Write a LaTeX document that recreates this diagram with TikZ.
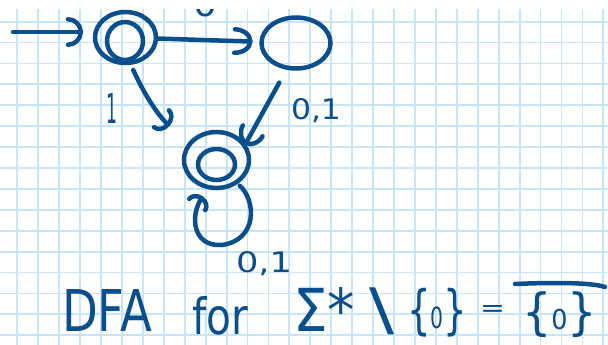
\documentclass[tikz,border=0pt]{standalone}
\usepackage{fontspec}
\setmainfont{DejaVu Sans}
\usepackage{graphicx}
\usetikzlibrary{arrows.meta,shapes.geometric}
\definecolor{ink}{HTML}{0A4E8C}
\definecolor{gridblue}{HTML}{C8E4F8}
\begin{document}
\begin{tikzpicture}[x=1pt,y=-1pt,
  inkline/.style={draw=ink, line width=4.5pt, line cap=round, line join=round},
  statering/.style={ellipse, draw=ink, line width=4.5pt, inner sep=0pt, outer sep=0pt},
  handtext/.style={text=ink, inner sep=0pt, outer sep=0pt, anchor=north west},
  gridline/.style={draw=gridblue, line width=1.8pt},
  tipinit/.style={-{Arc Barb[length=15pt,width=30pt,round]}},
  tipmid/.style={-{Arc Barb[length=18pt,width=28pt,round]}},
  tipdown/.style={-{Arc Barb[length=11pt,width=27pt,round]}},
  tipq2/.style={-{Arc Barb[length=16pt,width=27pt,round]}},
  tiploop/.style={-{Arc Barb[length=10pt,width=24pt,round]}}
]
\useasboundingbox (0,0) rectangle (608,345);
\fill[white] (0,0) rectangle (608,345);
\begin{scope}
\clip (0,9.5) rectangle (608,345);
\foreach \k in {0,...,28} \draw[gridline] ({17.3+20.93*\k},0) -- ({17.3+20.93*\k},345);
\foreach \k in {0,...,15} \draw[gridline] (0,{21.7+20.9*\k}) -- (608,{21.7+20.9*\k});
% label above the q0 -> q1 edge, cut by the top of the page as in the reference
\node[handtext] (lbl0top) at (193,-9) {\resizebox{24pt}{26pt}{0}};
\end{scope}

% states
\node[statering, minimum width=61pt, minimum height=51pt] (q0) at (125.5,37.5) {};
\node[statering, minimum width=36pt, minimum height=38pt] (q0in) at (125,41) {};
\node[statering, minimum width=69pt, minimum height=51pt] (q1) at (296,43) {};
\node[statering, minimum width=65pt, minimum height=56pt] (q2) at (216.5,160) {};
\node[statering, minimum width=37pt, minimum height=31pt] (q2in) at (216.5,164.5) {};

% connectors
\coordinate (init) at (13,32);
\draw[inkline, tipinit, shorten >=12pt] (init) -- (init -| q0.west);
\draw[inkline, tipmid, shorten <=2pt, shorten >=9pt] (q0) -- (q1);
\draw[inkline, tipdown, shorten <=8pt, shorten >=27pt] (q0.-80) to[bend right=12] (q2.149);
\draw[inkline, tipq2, shorten <=17pt, shorten >=1pt] (q1.-109) -- (q2.27);
\coordinate (loopbot) at (222,245);
\draw[inkline, tiploop, shorten <=5pt, shorten >=11pt] (q2.-49) .. controls (256,200) and (258,240) .. (loopbot) .. controls (192,247) and (190,215) .. (q2.-105);

% labels
\node[handtext] (lbl1) at (106,93) {\resizebox{11pt}{30pt}{1}};
\node[handtext] (lbl01a) at (291,98) {\resizebox{50pt}{21pt}{0,1}};
\node[handtext] (lbl01b) at (236,251) {\resizebox{56pt}{21pt}{0,1}};

% caption
\node[handtext] (tDFA) at (62,289) {\resizebox{90pt}{42pt}{DFA}};
\node[handtext] (tfor) at (192,296) {\resizebox{56pt}{38pt}{for}};
\node[handtext] (tsig) at (293,287) {\resizebox{62pt}{44pt}{Σ*}};
\node[handtext] (tbs) at (369,288) {\resizebox*{25pt}{47pt}{\textbackslash}};
\node[handtext] (tset) at (407,288) {\resizebox*{60pt}{49pt}{\{\scalebox{0.55}{0}\}}};
\node[handtext] (teq) at (480,305) {\resizebox{25pt}{11pt}{=}};
\node[handtext] (tcomp) at (522,292) {\resizebox*{75pt}{46pt}{\{\scalebox{0.55}{0}\}}};
\draw[inkline] ([xshift=-7pt,yshift=8pt]tcomp.north west) .. controls +(45,-2) and +(-12,-4) .. ([xshift=8pt,yshift=5pt]tcomp.north east);
\end{tikzpicture}
\end{document}
